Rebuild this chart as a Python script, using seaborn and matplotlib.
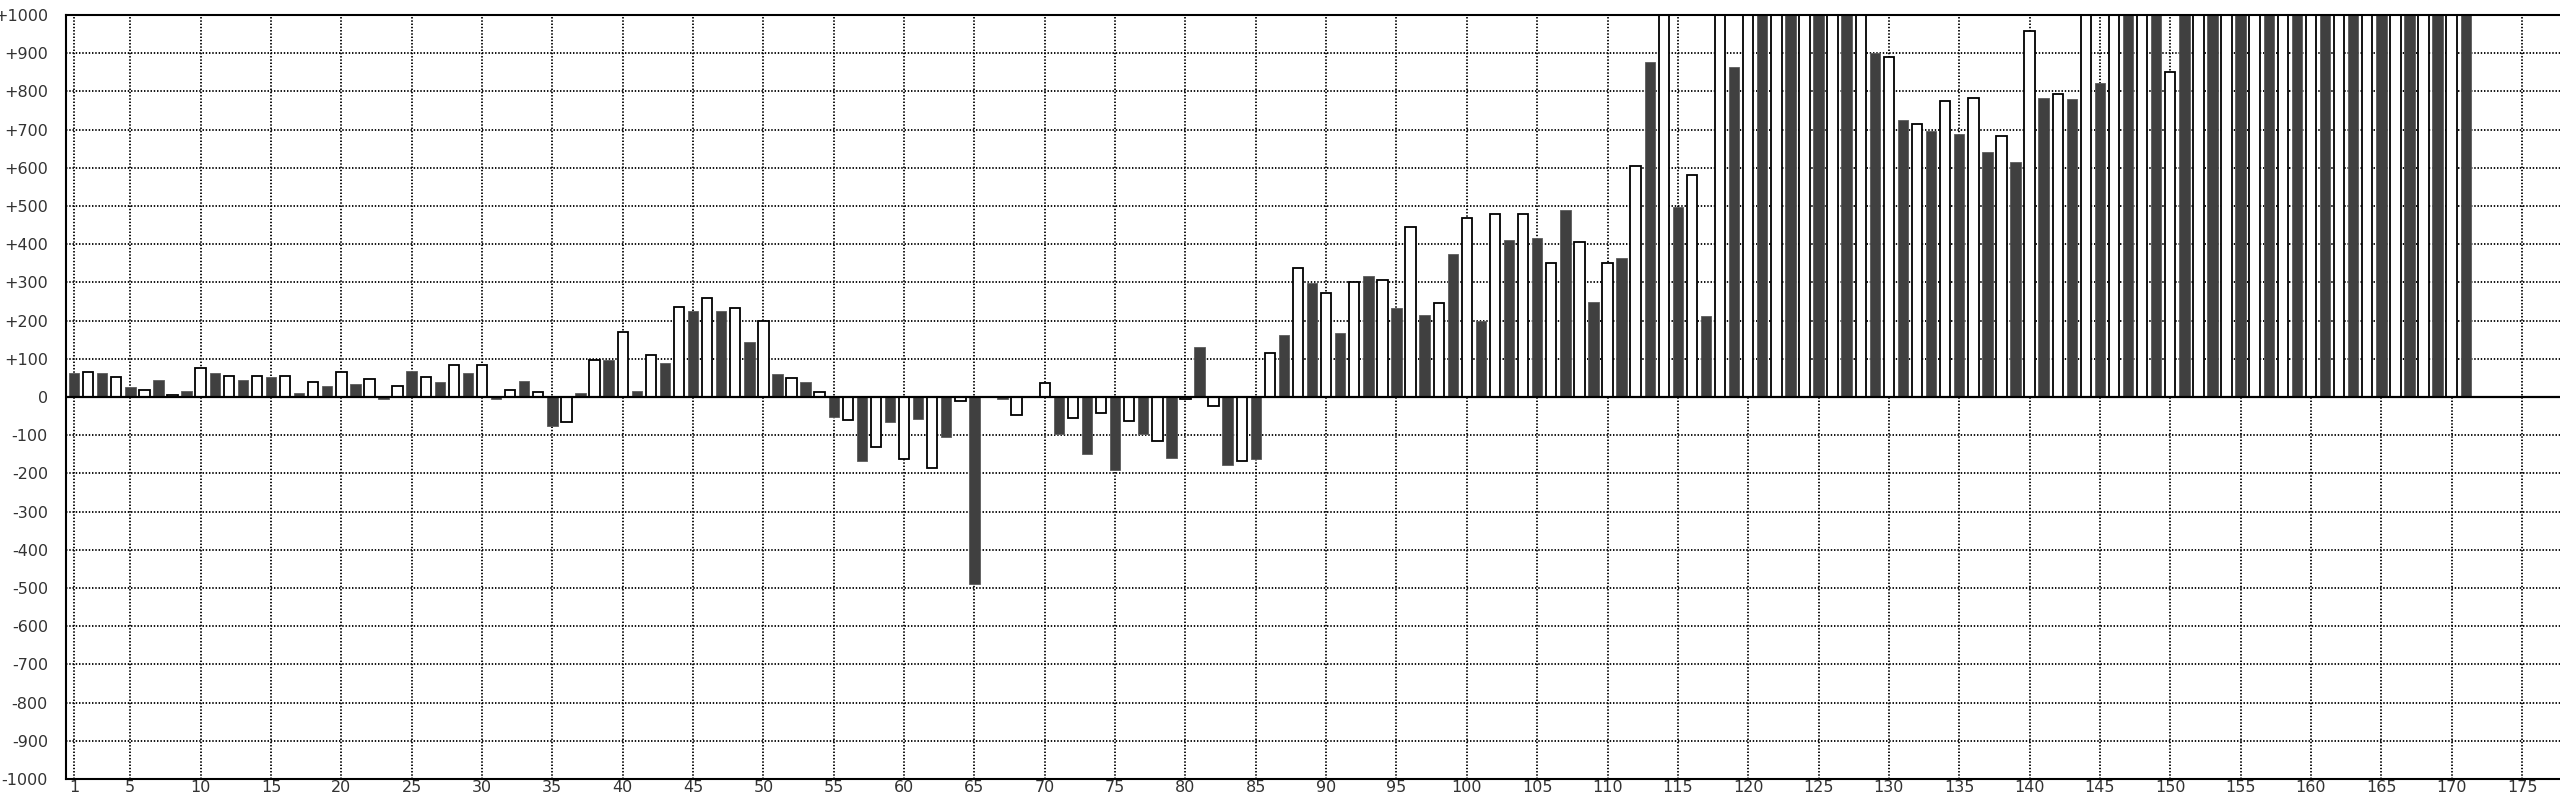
import numpy as np
import pandas as pd
import matplotlib
matplotlib.use('Agg')
import matplotlib.pyplot as plt
import seaborn as sns

# Numero de barra (1..171)
days = list(range(1, 172))

# Valores (las barras que salen por arriba quedan en 1000)
values = [
    62, 66, 62, 52, 25, 19, 45, 5, 16, 75,
    62, 56, 45, 56, 53, 56, 11, 38, 30, 66,
    34, 47, -5, 28, 67, 52, 39, 84, 62, 84,
    -6, 18, 43, 13, -77, -65, 10, 96, 98, 171,
    15, 111, 89, 236, 224, 259, 224, 232, 145, 198,
    61, 51, 38, 13, -53, -61, -168, -131, -66, -162,
    -57, -186, -104, -11, -490, 0, -6, -47, 0, 37,
    -98, -56, -149, -41, -191, -64, -96, -116, -159, -4,
    131, -24, -177, -168, -162, 116, 163, 338, 298, 273,
    168, 301, 316, 306, 232, 444, 214, 245, 375, 469,
    198, 479, 411, 479, 416, 350, 490, 406, 250, 350,
    365, 604, 877, 1000, 498, 580, 213, 1000, 863, 1000,
    1000, 1000, 1000, 1000, 1000, 1000, 1000, 1000, 900, 889,
    725, 714, 697, 774, 688, 783, 642, 682, 615, 958,
    784, 793, 780, 1000, 822, 1000, 1000, 1000, 1000, 852,
    1000, 1000, 1000, 1000, 1000, 1000, 1000, 1000, 1000, 1000,
    1000, 1000, 1000, 1000, 1000, 1000, 1000, 1000, 1000, 1000,
    1000,
]

x_ticks = [1] + list(range(5, 176, 5))
y_ticks = list(range(-1000, 1001, 100))

DARK = '#404040'

df = pd.DataFrame({'day': days, 'value': values})
df['kind'] = np.where(df['day'] % 2 == 1, 'odd', 'even')

sns.set_style('white')
plt.rcParams['font.family'] = ['DejaVu Sans']

fig = plt.figure(figsize=(25.6, 7.96), dpi=100)
ax = fig.add_axes([66 / 2560, 17 / 796, 1 - 66 / 2560, 764 / 796])

sns.barplot(data=df, x='day', y='value', hue='kind',
            palette={'odd': DARK, 'even': 'white'},
            dodge=False, native_scale=True, width=0.74,
            errorbar=None, legend=False, ax=ax)

# bordes: negro en las blancas, gris en las oscuras
for p in ax.patches:
    fc = p.get_facecolor()
    if fc[0] > 0.9:
        p.set_edgecolor('black')
        p.set_linewidth(1.3)
    else:
        p.set_edgecolor('#5c5c5c')
        p.set_linewidth(0.6)
    p.set_zorder(2)

ax.axhline(0, color='black', lw=1.6, zorder=3)

ax.set_xlim(0.43, 177.7)
ax.set_ylim(-1000, 1000)
ax.set_xticks(x_ticks)
ax.set_xticklabels([str(t) for t in x_ticks])
ax.set_yticks(y_ticks)
ax.set_yticklabels([f'+{t}' if t > 0 else str(t) for t in y_ticks])

ax.set_axisbelow(True)
ax.grid(True, color='black', linestyle=(0, (0.8, 1.0)), linewidth=1.3)
ax.tick_params(axis='both', length=0, labelsize=11.5, colors='#333333')
ax.tick_params(axis='y', pad=13)
ax.tick_params(axis='x', pad=1)
ax.set_xlabel('')
ax.set_ylabel('')

for side in ['left', 'top', 'bottom']:
    ax.spines[side].set_visible(True)
    ax.spines[side].set_color('black')
    ax.spines[side].set_linewidth(1.5)
ax.spines['right'].set_visible(False)

fig.savefig('out.png', dpi=100)
